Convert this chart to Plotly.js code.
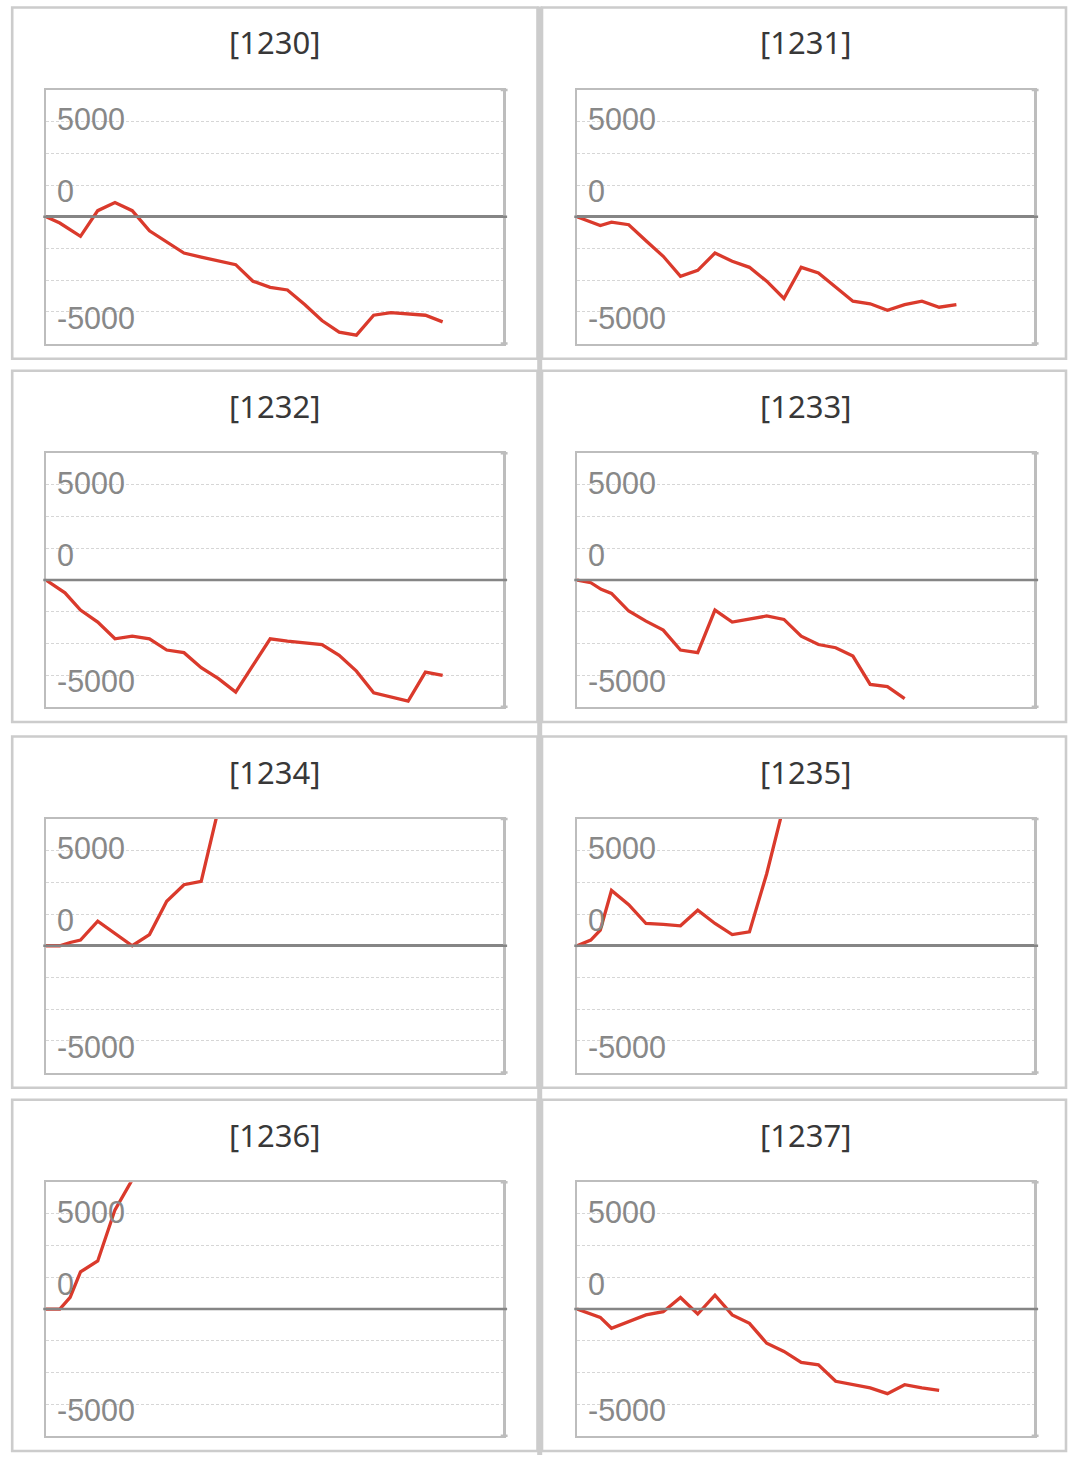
<!DOCTYPE html>
<html>
<head>
<meta charset="utf-8">
<script src="https://cdn.plot.ly/plotly-3.0.1.min.js"></script>
<style>
  html, body { margin: 0; padding: 0; background: #fff; }
  #chart { width: 1077px; height: 1465px; }
</style>
</head>
<body>
<div id="chart"></div>
<script>
"use strict";

// ----------------------------
// data
// ----------------------------
const TITLES = ["[1230]", "[1231]", "[1232]", "[1233]", "[1234]", "[1235]", "[1236]", "[1237]"];

const X_1230 = [0, 0.8, 2, 3, 4, 5, 6, 7, 8, 9, 10, 11, 12, 13, 14, 15, 16, 17, 18, 19, 20, 21, 22, 23];
const Y_1230 = [0, -330, -1030, 320, 750, 320, -740, -1310, -1910, -2120, -2310, -2520, -3390, -3710, -3850, -4620, -5460, -6070, -6230, -5180, -5040, -5110, -5180, -5530];

const X_1231 = [0, 1.35, 2, 3, 4, 5, 6, 7, 8, 9, 10, 11, 12, 13, 14, 15, 16, 17, 18, 19, 20, 21, 22];
const Y_1231 = [0, -460, -280, -420, -1260, -2080, -3130, -2820, -1910, -2340, -2660, -3390, -4300, -2660, -2960, -3710, -4440, -4580, -4920, -4620, -4440, -4760, -4620];

const X_1232 = [0, 1.1, 2, 3, 4, 5, 6, 7, 8, 9, 10, 11, 12, 13, 14, 15, 16, 17, 18, 19, 20, 21, 22, 23];
const Y_1232 = [0, -670, -1580, -2210, -3090, -2950, -3090, -3680, -3820, -4610, -5190, -5890, -4490, -3090, -3210, -3300, -3390, -3960, -4790, -5930, -6140, -6370, -4840, -5020];

const X_1233 = [0, 0.8, 1.4, 2, 3, 4, 5, 6, 7, 8, 9, 10, 11, 12, 13, 14, 15, 16, 17, 18, 19];
const Y_1233 = [0, -140, -490, -700, -1630, -2160, -2630, -3680, -3820, -1580, -2210, -2040, -1890, -2070, -2950, -3390, -3560, -4000, -5490, -5610, -6240];

const X_1234 = [0, 0.8, 1.4, 2, 3, 4, 5, 6, 7, 8, 9, 10];
const Y_1234 = [0, 0, 170, 300, 1290, 650, 0, 590, 2340, 3210, 3390, 7200];

const X_1235 = [0, 0.8, 1.35, 2, 3, 4, 5, 6, 7, 8, 9, 10, 11, 12];
const Y_1235 = [0, 300, 820, 2910, 2160, 1170, 1120, 1050, 1870, 1170, 590, 730, 3790, 7400];

const X_1236 = [0, 0.8, 1.4, 2, 3, 4, 5];
const Y_1236 = [0, 0, 610, 1950, 2530, 5220, 6800];

const X_1237 = [0, 1.35, 2, 3, 4, 5, 6, 7, 8, 9, 10, 11, 12, 13, 14, 15, 16, 17, 18, 19, 20, 21];
const Y_1237 = [0, -440, -1010, -660, -310, -140, 610, -260, 730, -310, -750, -1800, -2230, -2810, -2930, -3800, -3980, -4150, -4450, -3980, -4150, -4280];

const SERIES = [
  [X_1230, Y_1230], [X_1231, Y_1231],
  [X_1232, Y_1232], [X_1233, Y_1233],
  [X_1234, Y_1234], [X_1235, Y_1235],
  [X_1236, Y_1236], [X_1237, Y_1237],
];

// gridlines every 5000/3, labels drawn a bit off the lines like the original
const GRID_Y = [-5000, -3333.3, -1666.7, 0, 1666.7, 3333.3, 5000];
const LABEL_TEXT = ["5000", "0", "-5000"];
const LABEL_Y = [5120, 1330, -5300];

// ----------------------------
// page geometry (pixels)
// ----------------------------
const W = 1077, H = 1465;
const COL_L = [46, 577];
const PLOT_W = 457;
const ROW_T = [90, 453.3, 819, 1182.3];
const PLOT_H = 253.5;
const BOX_X = [[12.2, 537.5], [542, 1066]];

const FRAME = "#bdbdbd";
const ZERO = "#858585";

const px = (v) => v / W;
const py = (v) => 1 - v / H;

const data = [];
const layout = {
  width: W,
  height: H,
  margin: { l: 0, r: 0, t: 0, b: 0 },
  paper_bgcolor: "#fff",
  plot_bgcolor: "#fff",
  showlegend: false,
  annotations: [],
  shapes: [],
};

for (let i = 0; i < 8; i++) {
  const n = i + 1;
  const col = i % 2;
  const row = Math.floor(i / 2);
  const left = COL_L[col];
  const top = ROW_T[row];

  const [xs, ys] = SERIES[i];
  data.push({
    x: xs,
    y: ys,
    xaxis: "x" + n,
    yaxis: "y" + n,
    mode: "lines",
    line: { color: "#da3a2c", width: 3.3 },
    hoverinfo: "skip",
  });

  layout["xaxis" + n] = {
    domain: [px(left), px(left + PLOT_W)],
    anchor: "y" + n,
    range: [0, 26.5],
    showgrid: false,
    zeroline: false,
    showticklabels: false,
    ticks: "",
    showline: true,
    mirror: true,
    linecolor: FRAME,
    linewidth: 2.5,
  };
  layout["yaxis" + n] = {
    domain: [py(top + PLOT_H), py(top)],
    anchor: "x" + n,
    range: [-6667, 6667],
    tickmode: "array",
    tickvals: GRID_Y,
    showticklabels: false,
    ticks: "",
    showgrid: true,
    gridcolor: "#d6d6d6",
    gridwidth: 1,
    griddash: "3px,2px",
    zeroline: true,
    zerolinecolor: ZERO,
    zerolinewidth: 2.6,
    showline: true,
    mirror: true,
    linecolor: FRAME,
    linewidth: 2.5,
  };

  // panel title
  layout.annotations.push({
    text: TITLES[i],
    xref: "paper", yref: "paper",
    x: px(left + PLOT_W / 2), y: py(top - 47.5),
    xanchor: "center", yanchor: "middle",
    showarrow: false,
    font: { family: "Noto Sans, DejaVu Sans, sans-serif", size: 31, color: "#383838" },
  });

  // y labels inside the frame
  for (let k = 0; k < LABEL_TEXT.length; k++) {
    layout.annotations.push({
      text: LABEL_TEXT[k],
      xref: "x" + n + " domain", yref: "y" + n,
      x: 0, y: LABEL_Y[k],
      xshift: 9,
      xanchor: "left", yanchor: "middle",
      showarrow: false,
      font: { family: "Liberation Sans, Arial, sans-serif", size: 30.5, color: "#888" },
    });
  }

  // zero line and frame edges run a few pixels past the box
  layout.shapes.push({
    type: "line", xref: "x" + n + " domain", yref: "y" + n,
    x0: -0.006, x1: 1.009, y0: 0, y1: 0,
    line: { color: ZERO, width: 2.6 },
  });
  for (const yd of [0, 1]) {
    layout.shapes.push({
      type: "line", xref: "x" + n + " domain", yref: "y" + n + " domain",
      x0: 0.995, x1: 1.01, y0: yd, y1: yd,
      line: { color: FRAME, width: 2.5 },
    });
  }

  // panel box
  const [bx0, bx1] = BOX_X[col];
  layout.shapes.push({
    type: "rect", xref: "paper", yref: "paper", layer: "below",
    x0: px(bx0), x1: px(bx1),
    y0: py(top + PLOT_H + 15.2), y1: py(top - 82.5),
    line: { color: "#cccccc", width: 2.6 },
  });
}

// divider between the two columns
layout.shapes.push({
  type: "line", xref: "paper", yref: "paper", layer: "below",
  x0: px(539.7), x1: px(539.7), y0: py(1455), y1: py(6.5),
  line: { color: "#cccccc", width: 5 },
});

Plotly.newPlot("chart", data, layout, { staticPlot: true, displayModeBar: false });
</script>
</body>
</html>
